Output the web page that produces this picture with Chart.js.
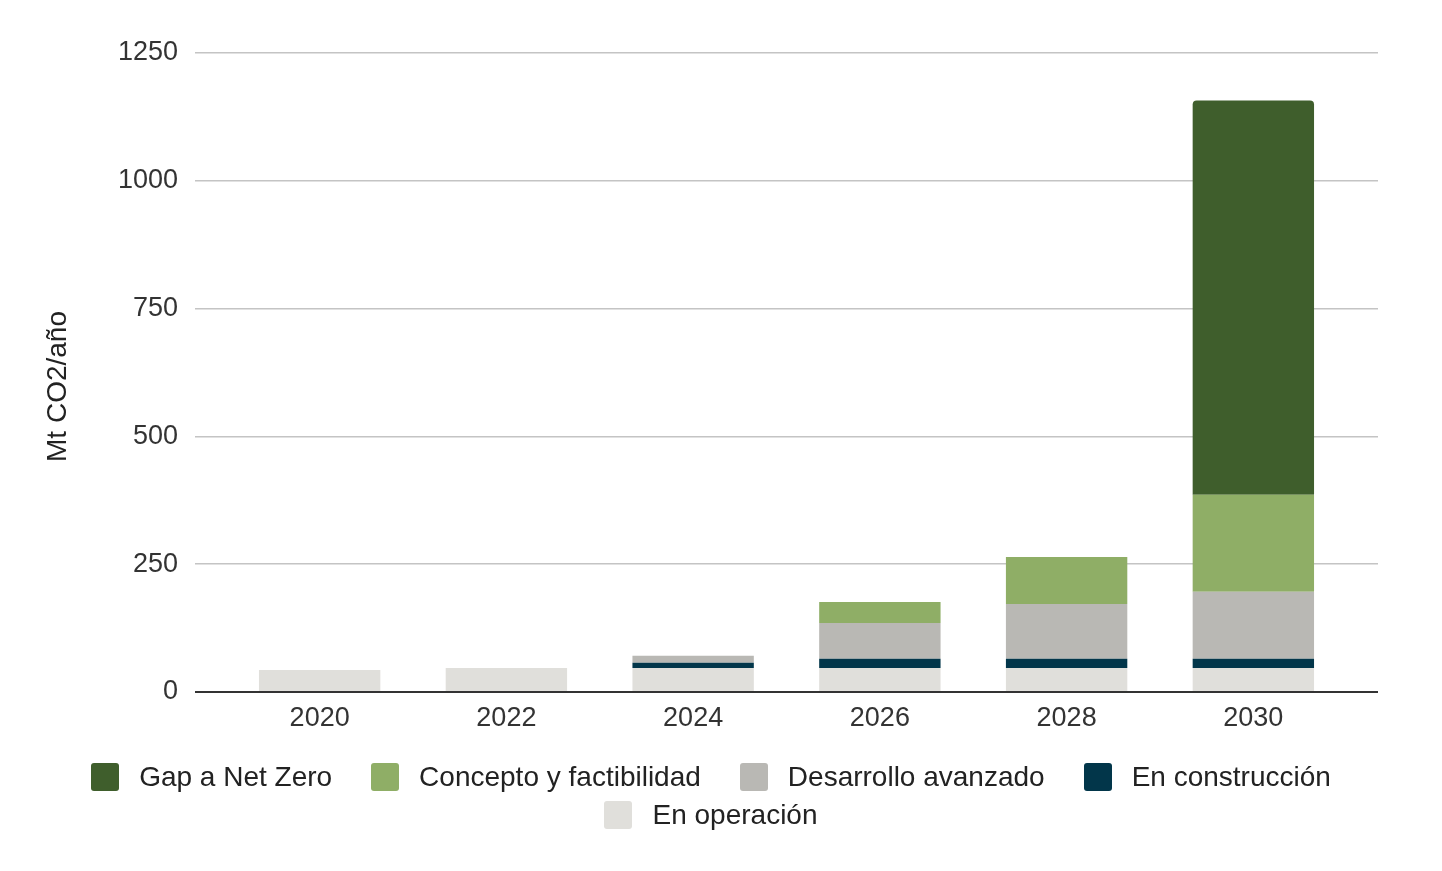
<!DOCTYPE html>
<html>
<head>
<meta charset="utf-8">
<script src="https://cdn.jsdelivr.net/npm/chart.js@4/dist/chart.umd.min.js"></script>
<style>
  html, body { margin: 0; padding: 0; background: #fff; }
  #wrap { position: relative; width: 1442px; height: 871px; }
  #legend {
    position: absolute; left: 0; top: 763px; width: 1422px;
    display: flex; flex-wrap: wrap; justify-content: center;
    column-gap: 39px; row-gap: 10px;
    font-family: "Liberation Sans", Arial, sans-serif; font-size: 28px; color: #222;
  }
  .item { display: flex; align-items: center; height: 28px; white-space: nowrap; }
  .box { width: 28px; height: 28px; border-radius: 3px; margin-right: 20px; }
</style>
</head>
<body>
<div id="wrap">
  <canvas id="c" width="1442" height="871"></canvas>
  <div id="legend"></div>
</div>
<script>
const years = [2020, 2022, 2024, 2026, 2028, 2030];
const enOperacion    = [43, 47, 47, 47, 47, 47];
const enConstruccion = [0, 0, 10, 18, 18, 18];
const desarrollo     = [0, 0, 14, 70, 107, 131];
const concepto       = [0, 0, 0, 41, 92, 190];
const gapNetZero     = [0, 0, 0, 0, 0, 771];
const yTicks = [0, 250, 500, 750, 1000, 1250];

const FONT = '"Liberation Sans", Arial, sans-serif';
const pts = arr => arr.map((v, i) => ({ x: years[i], y: v }));

const datasets = [
  { label: 'En operación', data: pts(enOperacion), backgroundColor: '#e0dfdb' },
  { label: 'En construcción', data: pts(enConstruccion), backgroundColor: '#02364a' },
  { label: 'Desarrollo avanzado', data: pts(desarrollo), backgroundColor: '#b9b8b4' },
  { label: 'Concepto y factibilidad', data: pts(concepto), backgroundColor: '#8fae66' },
  { label: 'Gap a Net Zero', data: pts(gapNetZero), backgroundColor: '#3f5e2c',
    borderRadius: { topLeft: 4, topRight: 4, bottomLeft: 0, bottomRight: 0 }, borderSkipped: 'bottom' }
];
datasets.forEach(d => { d.borderWidth = 0; d.barPercentage = 0.65; d.categoryPercentage = 1.0; });

const chart = new Chart(document.getElementById('c'), {
  type: 'bar',
  data: { datasets },
  options: {
    responsive: false,
    animation: false,
    devicePixelRatio: 1,
    layout: { padding: { top: 53, right: 64, bottom: 0, left: 0 } },
    plugins: { legend: { display: false }, tooltip: { enabled: false } },
    scales: {
      x: {
        type: 'linear', stacked: true, offset: false,
        min: years[0] - 1.335, max: years[years.length - 1] + 1.335,
        afterBuildTicks: axis => { axis.ticks = years.map(v => ({ value: v })); },
        afterFit: axis => { axis.height = 179; },
        grid: { display: false, drawTicks: false },
        border: { display: false },
        ticks: { color: '#333', font: { family: FONT, size: 27 }, padding: 10,
                 callback: v => String(v), maxRotation: 0, autoSkip: false }
      },
      y: {
        stacked: true, min: 0, max: 1250,
        afterBuildTicks: axis => { axis.ticks = yTicks.map(v => ({ value: v })); },
        afterFit: axis => { axis.width = 195; },
        grid: {
          drawTicks: false,
          color: c => c.tick && c.tick.value === 0 ? '#333333' : '#c4c4c4',
          lineWidth: c => c.tick && c.tick.value === 0 ? 2 : 1.5
        },
        border: { display: false },
        ticks: { color: '#333', font: { family: FONT, size: 27 }, padding: 17,
                 callback: v => String(v) },
        title: { display: true, text: 'Mt CO2/año\u2003', color: '#222',
                 font: { family: FONT, size: 28 }, padding: { top: 41, bottom: 0 } }
      }
    }
  }
});

const legend = document.getElementById('legend');
chart.data.datasets.slice().reverse().forEach(ds => {
  const it = document.createElement('div'); it.className = 'item';
  const b = document.createElement('div'); b.className = 'box'; b.style.background = ds.backgroundColor;
  const t = document.createElement('span'); t.textContent = ds.label;
  it.appendChild(b); it.appendChild(t); legend.appendChild(it);
});
</script>
</body>
</html>
